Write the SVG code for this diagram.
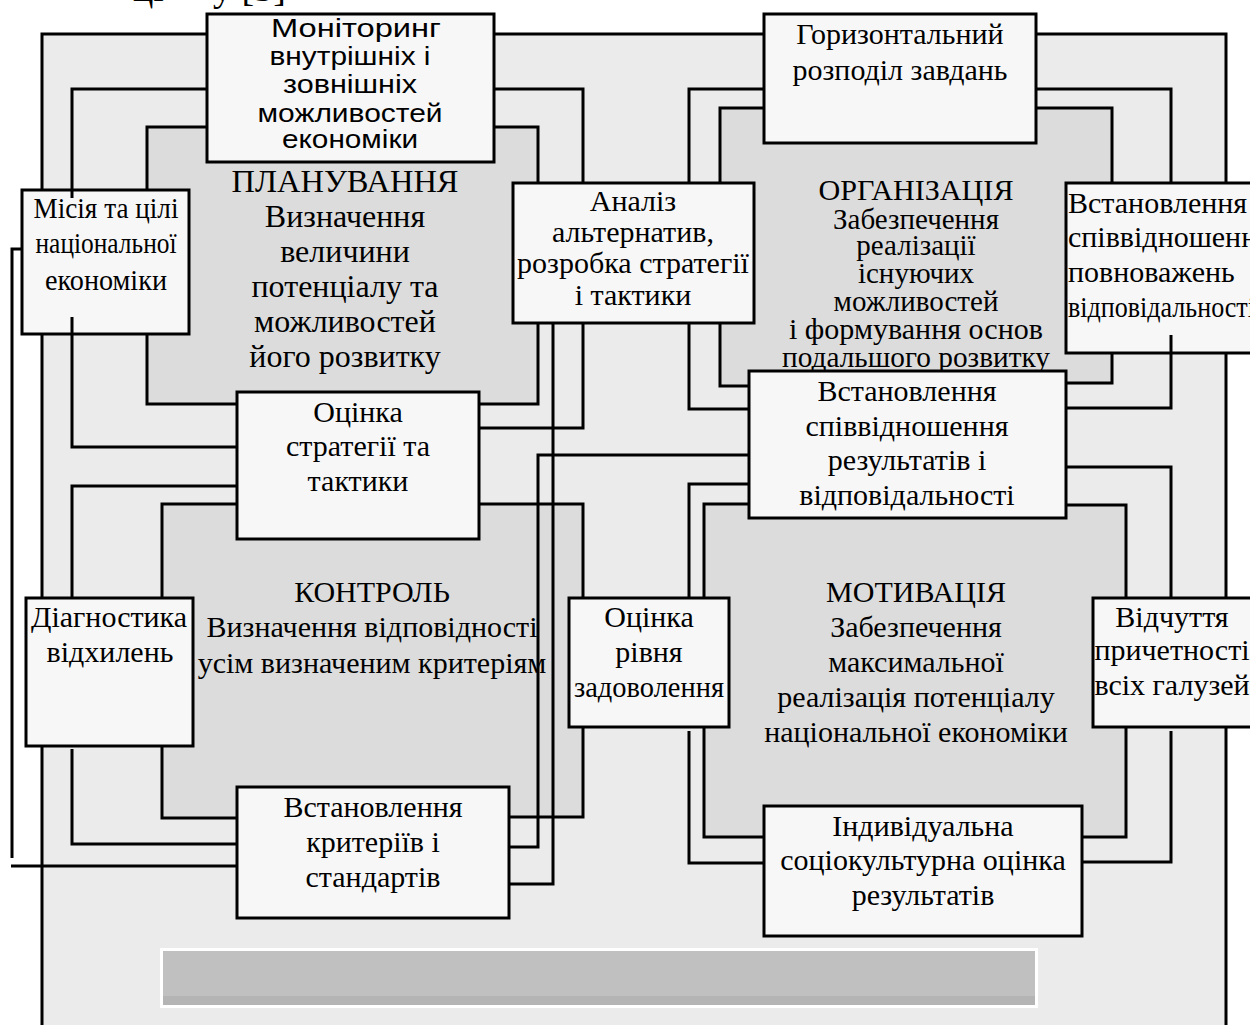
<svg xmlns="http://www.w3.org/2000/svg" width="1250" height="1025" viewBox="0 0 1250 1025">
<style>
.t{font-family:"Liberation Serif","Times New Roman",serif;font-size:30px;fill:#000;text-anchor:middle}
.p{font-size:32px}
.o{font-size:29px}
.s{font-family:"Liberation Sans",Arial,sans-serif;font-size:26px;fill:#000;text-anchor:middle}
.l{text-anchor:start}
.box{fill:#f7f7f7;stroke:#000;stroke-width:3}
.ln{fill:none;stroke:#000;stroke-width:3}
.inner{fill:#dcdcdc}
</style>
<rect x="0" y="0" width="1250" height="1025" fill="#fff"/>
<g id="background">
<rect x="42" y="34" width="1184" height="995" fill="#ebebeb"/>
<rect class="inner" x="147" y="127" width="391" height="277"/>
<rect class="inner" x="720" y="108" width="392" height="277"/>
<rect class="inner" x="162" y="504" width="421" height="314"/>
<rect class="inner" x="704" y="504" width="422" height="333"/>
<path class="ln" d="M42,1030 V34 H1226 V1030"/>
<rect x="161.5" y="949.5" width="875" height="57" fill="#c0c0c0" stroke="#fff" stroke-width="3"/>
<rect x="163" y="996" width="872" height="9" fill="#b4b4b4"/>
</g>
<text class="t l" style="font-size:38px"><tspan x="133" y="1">ці</tspan><tspan x="213" y="1">у [5]</tspan></text>
<g id="label-planning">
<text class="t p" x="345" y="192" textLength="227" lengthAdjust="spacingAndGlyphs">ПЛАНУВАННЯ</text>
<text class="t p" x="345" y="227">Визначення</text>
<text class="t p" x="345" y="262">величини</text>
<text class="t p" x="345" y="297">потенціалу та</text>
<text class="t p" x="345" y="332">можливостей</text>
<text class="t p" x="345" y="367">його розвитку</text>
</g>
<g id="label-organization">
<text class="t o" x="916" y="200" textLength="195" lengthAdjust="spacingAndGlyphs">ОРГАНІЗАЦІЯ</text>
<text class="t o" x="916" y="229">Забезпечення</text>
<text class="t o" x="916" y="255">реалізації</text>
<text class="t o" x="916" y="283">існуючих</text>
<text class="t o" x="916" y="311">можливостей</text>
<text class="t o" x="916" y="339" textLength="254" lengthAdjust="spacingAndGlyphs">і формування основ</text>
<text class="t o" x="916" y="367" textLength="268" lengthAdjust="spacingAndGlyphs">подальшого розвитку</text>
</g>
<g id="label-control">
<text class="t" x="372" y="602">КОНТРОЛЬ</text>
<text class="t" x="372" y="637">Визначення відповідності</text>
<text class="t" x="372" y="673">усім визначеним критеріям</text>
</g>
<g id="label-motivation">
<text class="t" x="916" y="602">МОТИВАЦІЯ</text>
<text class="t" x="916" y="637">Забезпечення</text>
<text class="t" x="916" y="672">максимальної</text>
<text class="t" x="916" y="707">реалізація потенціалу</text>
<text class="t" x="916" y="742">національної економіки</text>
</g>
<g id="n-monitoring">
<rect class="box" x="207" y="14" width="287" height="148"/>
<text class="s" x="356" y="37" textLength="170" lengthAdjust="spacingAndGlyphs">Моніторинг</text>
<text class="s" x="350" y="65" textLength="161" lengthAdjust="spacingAndGlyphs">внутрішніх і</text>
<text class="s" x="350" y="93" textLength="134" lengthAdjust="spacingAndGlyphs">зовнішніх</text>
<text class="s" x="350" y="122" textLength="185" lengthAdjust="spacingAndGlyphs">можливостей</text>
<text class="s" x="350" y="148" textLength="136" lengthAdjust="spacingAndGlyphs">економіки</text>
</g>
<g id="n-horizontal">
<rect class="box" x="764" y="14" width="272" height="129"/>
<text class="t" x="900" y="44">Горизонтальний</text>
<text class="t" x="900" y="80">розподіл завдань</text>
</g>
<g id="n-mission">
<rect class="box" x="22" y="190" width="167" height="144"/>
<text class="t" x="106" y="218" textLength="145" lengthAdjust="spacingAndGlyphs">Місія та цілі</text>
<text class="t" x="106" y="253" textLength="141" lengthAdjust="spacingAndGlyphs">національної</text>
<text class="t" x="106" y="290" textLength="122" lengthAdjust="spacingAndGlyphs">економіки</text>
</g>
<g id="n-analysis">
<rect class="box" x="513" y="183" width="241" height="140"/>
<text class="t" x="633" y="211">Аналіз</text>
<text class="t" x="633" y="242">альтернатив,</text>
<text class="t" x="633" y="273">розробка стратегії</text>
<text class="t" x="633" y="305">і тактики</text>
</g>
<g id="n-authority">
<rect class="box" x="1066" y="183" width="200" height="170"/>
<text class="t l" x="1068" y="213">Встановлення</text>
<text class="t l" x="1068" y="247">співвідношення</text>
<text class="t l" x="1068" y="282">повноважень</text>
<text class="t l" x="1068" y="317" textLength="187" lengthAdjust="spacingAndGlyphs">відповідальності</text>
</g>
<g id="n-results">
<rect class="box" x="749" y="371" width="317" height="147"/>
<text class="t" x="907" y="401">Встановлення</text>
<text class="t" x="907" y="436">співвідношення</text>
<text class="t" x="907" y="470">результатів і</text>
<text class="t" x="907" y="505">відповідальності</text>
</g>
<g id="n-strategy-eval">
<rect class="box" x="237" y="392" width="242" height="147"/>
<text class="t" x="358" y="422">Оцінка</text>
<text class="t" x="358" y="456">стратегії та</text>
<text class="t" x="358" y="491">тактики</text>
</g>
<g id="n-diagnostics">
<rect class="box" x="26" y="598" width="167" height="148"/>
<text class="t" x="109" y="627">Діагностика</text>
<text class="t" x="110" y="662">відхилень</text>
</g>
<g id="n-satisfaction">
<rect class="box" x="569" y="598" width="160" height="129"/>
<text class="t" x="649" y="627">Оцінка</text>
<text class="t" x="649" y="662">рівня</text>
<text class="t" x="649" y="697" textLength="150" lengthAdjust="spacingAndGlyphs">задоволення</text>
</g>
<g id="n-involvement">
<rect class="box" x="1093" y="598" width="173" height="129"/>
<text class="t" x="1172" y="627">Відчуття</text>
<text class="t" x="1172" y="660">причетності</text>
<text class="t" x="1172" y="695">всіх галузей</text>
</g>
<g id="n-criteria">
<rect class="box" x="237" y="787" width="272" height="131"/>
<text class="t" x="373" y="817">Встановлення</text>
<text class="t" x="373" y="852">критеріїв і</text>
<text class="t" x="373" y="887">стандартів</text>
</g>
<g id="n-individual">
<rect class="box" x="764" y="806" width="318" height="130"/>
<text class="t" x="923" y="836">Індивідуальна</text>
<text class="t" x="923" y="870">соціокультурна оцінка</text>
<text class="t" x="923" y="905">результатів</text>
</g>
<g id="connectors">
<path class="ln" d="M207,89 H72 V198"/>
<path class="ln" d="M72,317 V447 H237"/>
<path class="ln" d="M494,89 H583 V183"/>
<path class="ln" d="M583,323 V428 H479"/>
<path class="ln" d="M207,127 H147 V190"/>
<path class="ln" d="M147,334 V404 H237"/>
<path class="ln" d="M494,127 H538 V183"/>
<path class="ln" d="M538,323 V404 H479"/>
<path class="ln" d="M764,89 H689 V183"/>
<path class="ln" d="M689,323 V409 H749"/>
<path class="ln" d="M1036,89 H1171 V183"/>
<path class="ln" d="M1171,335 V408 H1066"/>
<path class="ln" d="M764,108 H720 V183"/>
<path class="ln" d="M720,323 V386 H749"/>
<path class="ln" d="M1036,108 H1112 V183"/>
<path class="ln" d="M1112,353 V383 H1066"/>
<path class="ln" d="M237,486 H72 V598"/>
<path class="ln" d="M72,749 V844 H237"/>
<path class="ln" d="M237,504 H162 V598"/>
<path class="ln" d="M162,746 V818 H237"/>
<path class="ln" d="M479,504 H583 V598"/>
<path class="ln" d="M583,727 V817 H509"/>
<path class="ln" d="M749,484 H689 V598"/>
<path class="ln" d="M689,731 V863 H764"/>
<path class="ln" d="M1066,467 H1171 V598"/>
<path class="ln" d="M1171,731 V862 H1082"/>
<path class="ln" d="M749,504 H704 V598"/>
<path class="ln" d="M704,727 V837 H764"/>
<path class="ln" d="M1066,505 H1126 V598"/>
<path class="ln" d="M1126,727 V837 H1082"/>
<path class="ln" d="M553,323 V884 H509"/>
<path class="ln" d="M749,455 H538 V847 H509"/>
<path class="ln" d="M22,249 H12 V858"/>
<path class="ln" d="M11,866 H237"/>
</g>
</svg>
